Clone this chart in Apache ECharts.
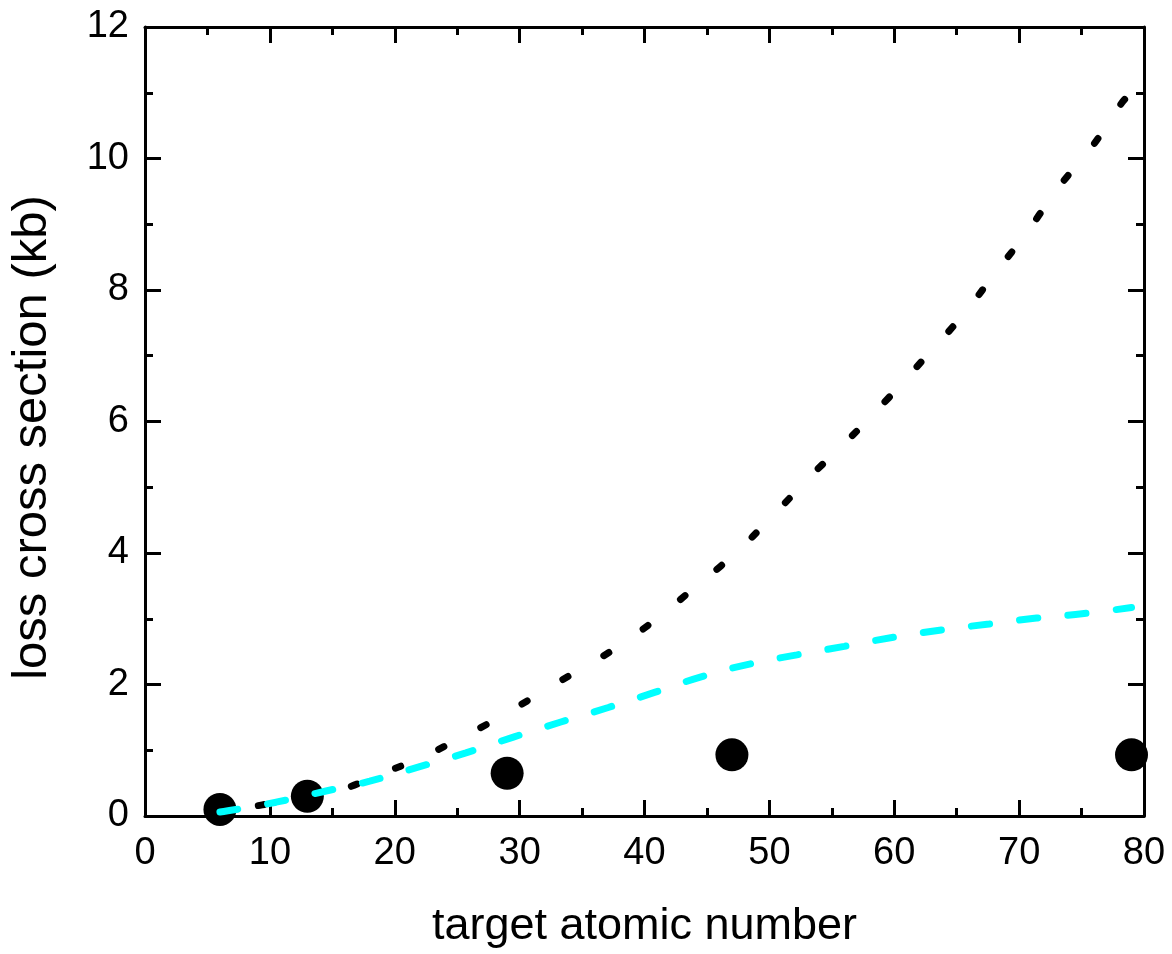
<!DOCTYPE html>
<html>
<head>
<meta charset="utf-8">
<script src="https://cdn.jsdelivr.net/npm/echarts@6/dist/echarts.min.js"></script>
<style>
  html, body { margin: 0; padding: 0; background: #fff; }
  #chart { width: 1172px; height: 954px; }
</style>
</head>
<body>
<div id="chart"></div>
<script>
// measured points (target Z, kb)
const measZ = [6, 13, 29, 47, 79]
const measSigma = [0.1, 0.3, 0.65, 0.93, 0.93]

// dotted curve
const dotZ = [6, 9.4, 15.6, 18.7, 21.9, 25.0, 28.1, 31.3, 34.3, 37.5, 40.7, 43.8, 47.1, 50.1, 53.2, 56.4, 59.5, 62.5, 65.4, 68.1, 70.7, 73.2, 75.8, 78.2, 79]
const dotSigma = [0.06, 0.17, 0.40, 0.63, 0.87, 1.16, 1.47, 1.83, 2.17, 2.53, 2.96, 3.44, 3.97, 4.53, 5.15, 5.74, 6.35, 6.98, 7.6, 8.26, 8.9, 9.57, 10.17, 10.84, 11.0]

// dashed cyan curve
const dashZ = [6, 10.5, 14.5, 18, 22, 25.7, 29.5, 33.3, 37.1, 40.8, 44.6, 48.4, 52.2, 56, 60, 63.8, 67.6, 71.4, 75.2, 79]
const dashSigma = [0.06, 0.21, 0.38, 0.53, 0.75, 0.96, 1.2, 1.43, 1.65, 1.88, 2.12, 2.31, 2.45, 2.58, 2.72, 2.83, 2.92, 3.01, 3.08, 3.17]

const pairs = (xs, ys) => xs.map((x, i) => [x, ys[i]])

const font = 'Liberation Sans, Arial, sans-serif'
const black = '#000'

const tickCommon = {
  axisLine: { show: true, onZero: false, lineStyle: { color: black, width: 3 } },
  axisTick: { show: true, inside: true, length: 16, lineStyle: { color: black, width: 3 } },
  minorTick: { show: true, splitNumber: 2, length: 8, lineStyle: { color: black, width: 3 } },
  splitLine: { show: false },
  minorSplitLine: { show: false },
}

const chart = echarts.init(document.getElementById('chart'))
chart.setOption({
  backgroundColor: '#fff',
  animation: false,
  grid: { left: 145, right: 28, top: 27, bottom: 138 },
  xAxis: [
    {
      type: 'value', min: 0, max: 80, interval: 10, position: 'bottom',
      ...tickCommon,
      axisLabel: { color: black, fontSize: 38, fontFamily: font, margin: 19 },
      name: 'target atomic number',
      nameLocation: 'middle',
      nameGap: 88,
      nameTextStyle: { color: black, fontSize: 45, fontFamily: font },
    },
    {
      type: 'value', min: 0, max: 80, interval: 10, position: 'top',
      ...tickCommon,
      axisLabel: { show: false },
    },
  ],
  yAxis: [
    {
      type: 'value', min: 0, max: 12, interval: 2, position: 'left',
      ...tickCommon,
      axisLabel: { color: black, fontSize: 38, fontFamily: font, margin: 16 },
      name: 'loss cross section (kb)',
      nameLocation: 'middle',
      nameGap: 88,
      nameTextStyle: { color: black, fontSize: 49, fontFamily: font, padding: [0, 32, 0, 0] },
    },
    {
      type: 'value', min: 0, max: 12, interval: 2, position: 'right',
      ...tickCommon,
      axisLabel: { show: false },
    },
  ],
  series: [
    {
      type: 'scatter',
      z: 1,
      data: pairs(measZ, measSigma),
      symbol: 'circle',
      symbolSize: 33,
      itemStyle: { color: black, opacity: 1 },
    },
    {
      type: 'line',
      z: 2,
      data: pairs(dotZ, dotSigma),
      smooth: true,
      showSymbol: false,
      lineStyle: { color: black, width: 7, type: [6, 41.5], dashOffset: 8.5, cap: 'round' },
    },
    {
      type: 'line',
      z: 3,
      data: pairs(dashZ, dashSigma),
      smooth: true,
      showSymbol: false,
      lineStyle: { color: '#00ffff', width: 7, type: [18, 30.5], cap: 'round' },
    },
  ],
})
</script>
</body>
</html>
